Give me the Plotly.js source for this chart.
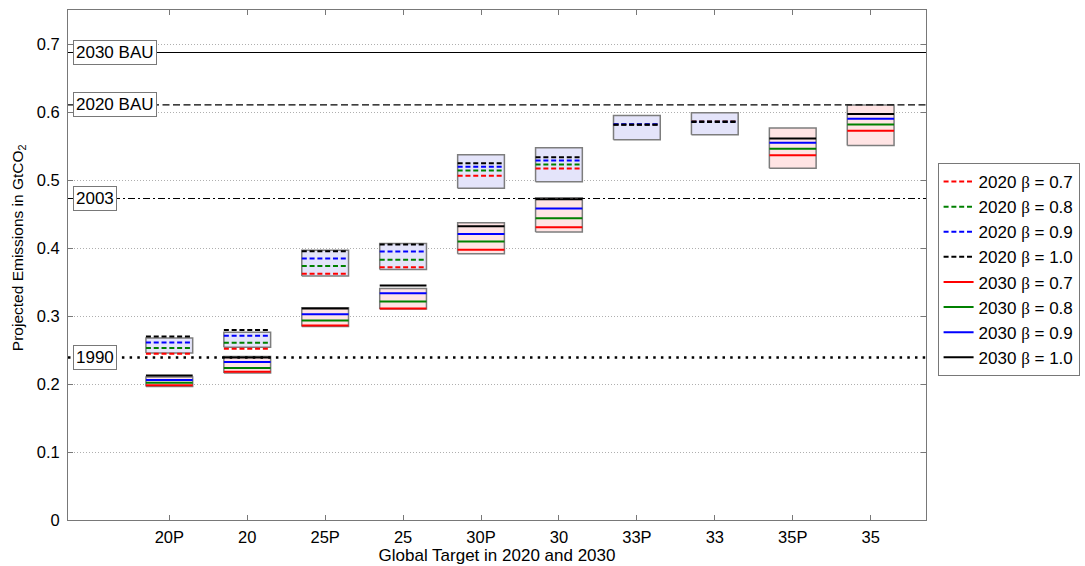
<!DOCTYPE html>
<html>
<head>
<meta charset="utf-8">
<script src="https://cdn.plot.ly/plotly-3.0.1.min.js"></script>
<style>html,body{margin:0;padding:0;background:#fff;}#chart{width:1085px;height:566px;}</style>
</head>
<body>
<div id="chart"></div>
<script>
// ---------------- data ----------------
const categories = ['20P','20','25P','25','30P','30','33P','33','35P','35'];

// 2020 projections (dashed lines)
const e2020_b07 = [0.2445, 0.2518, 0.3623, 0.3716, 0.5062, 0.5169, 0.5815, 0.5865, null, null];
const e2020_b08 = [0.2530, 0.2607, 0.3736, 0.3829, 0.5140, 0.5228, 0.5815, 0.5862, null, null];
const e2020_b09 = [0.2610, 0.2710, 0.3844, 0.3947, 0.5194, 0.5287, 0.5819, 0.5858, null, null];
const e2020_b10 = [0.2700, 0.2794, 0.3952, 0.4050, 0.5247, 0.5336, 0.5812, 0.5852, null, null];

// 2030 projections (solid lines)
const e2030_b07 = [0.1980, 0.2180, 0.2862, 0.3112, 0.3976, 0.4305, null, null, 0.5365, 0.5725];
const e2030_b08 = [0.2020, 0.2234, 0.2935, 0.3215, 0.4094, 0.4437, null, null, 0.5460, 0.5817];
const e2030_b09 = [0.2060, 0.2322, 0.3024, 0.3333, 0.4207, 0.4580, null, null, 0.5548, 0.5901];
const e2030_b10 = [0.2125, 0.2390, 0.3112, 0.3450, 0.4320, 0.4717, null, null, 0.5611, 0.5969];

// range boxes
const box2020Lo = [0.2455, 0.2540, 0.3589, 0.3682, 0.4880, 0.4973, 0.5592, 0.5666, null, null];
const box2020Hi = [0.2676, 0.2762, 0.3966, 0.4065, 0.5370, 0.5474, 0.5950, 0.5990, null, null];
const box2030Lo = [0.1963, 0.2161, 0.2847, 0.3103, 0.3917, 0.4237, null, null, 0.5174, 0.5508];
const box2030Hi = [0.2102, 0.2405, 0.3122, 0.3406, 0.4370, 0.4738, null, null, 0.5763, 0.6102];

// reference levels
const refLabels = ['2030 BAU', '2020 BAU', '2003', '1990'];
const refValues = [0.6875, 0.6105, 0.4728, 0.2390];

// series names
const betaLabels = ['0.7', '0.8', '0.9', '1.0'];
const yearLabels = ['2020', '2030'];

// ---------------- styles ----------------
const seriesColors = ['#ff0000', '#008000', '#0000ff', '#000000'];
const refDash = ['solid', '7px,3.5px', '7px,3px,2px,3px', '2.5px,5.2px'];
const refWidth = [1.2, 1.1, 1.1, 2.6];
const HW = 0.3;
const FONT = '"Liberation Sans", Arial, Helvetica, sans-serif';

function seriesName(year, beta) {
  return year + ' <span style="font-family:\'Liberation Serif\',\'DejaVu Serif\',serif">β</span> = ' + beta;
}
function segs(vals) {
  const x = [], y = [];
  vals.forEach((v, i) => {
    if (v === null) return;
    x.push(i + 1 - HW, i + 1 + HW, null);
    y.push(v, v, null);
  });
  return {x, y};
}
function boxes(lo, hi) {
  const x = [], y = [];
  lo.forEach((l, i) => {
    if (l === null) return;
    const h = hi[i], c = i + 1;
    x.push(c - HW, c + HW, c + HW, c - HW, c - HW, null);
    y.push(l, l, h, h, l, null);
  });
  return {x, y};
}

const traces = [];
[[box2020Lo, box2020Hi, 'rgb(228,228,250)'], [box2030Lo, box2030Hi, 'rgb(255,228,228)']].forEach(b => {
  const p = boxes(b[0], b[1]);
  traces.push({x: p.x, y: p.y, type: 'scatter', mode: 'lines', fill: 'toself',
    fillcolor: b[2], line: {color: 'rgb(125,125,125)', width: 1.5},
    showlegend: false, hoverinfo: 'skip'});
});
[e2020_b07, e2020_b08, e2020_b09, e2020_b10].forEach((s, k) => {
  const p = segs(s);
  traces.push({x: p.x, y: p.y, type: 'scatter', mode: 'lines', name: seriesName(yearLabels[0], betaLabels[k]),
    line: {color: seriesColors[k], width: 2, dash: '5px,2.8px'}});
});
[e2030_b07, e2030_b08, e2030_b09, e2030_b10].forEach((s, k) => {
  const p = segs(s);
  traces.push({x: p.x, y: p.y, type: 'scatter', mode: 'lines', name: seriesName(yearLabels[1], betaLabels[k]),
    line: {color: seriesColors[k], width: 2}});
});

const shapes = refValues.map((v, k) => ({
  type: 'line', xref: 'paper', x0: 0, x1: 1, yref: 'y', y0: v, y1: v, layer: 'above',
  line: {color: '#000', width: refWidth[k], dash: refDash[k]}
}));

const annotations = refValues.map((v, k) => ({
  xref: 'paper', x: 0.0058, xanchor: 'left', yref: 'y', y: v, yanchor: 'middle',
  text: refLabels[k], showarrow: false, bgcolor: '#fff', bordercolor: 'rgb(120,120,120)',
  borderwidth: 1, borderpad: 2, font: {family: FONT, size: 17, color: '#000'}
}));
annotations.push({
  xref: 'paper', x: -0.0583, xanchor: 'center', yref: 'paper', y: 0.535, yanchor: 'middle',
  text: 'Projected Emissions in GtCO<sub>2</sub>', textangle: -90, showarrow: false,
  font: {family: FONT, size: 15.5, color: '#000'}
});

const axisCommon = {
  showline: true, linecolor: 'rgb(120,120,120)', linewidth: 1, mirror: 'ticks',
  ticks: 'inside', ticklen: 5, tickcolor: 'rgb(120,120,120)', zeroline: false,
  tickfont: {family: FONT, size: 16.5, color: '#000'}
};

const layout = {
  width: 1085, height: 566,
  margin: {l: 68, r: 159, t: 10, b: 46, autoexpand: false},
  paper_bgcolor: '#fff', plot_bgcolor: '#fff',
  font: {family: FONT, color: '#000'},
  xaxis: Object.assign({}, axisCommon, {
    range: [-0.3, 10.71], tickmode: 'array',
    tickvals: categories.map((c, i) => i + 1), ticktext: categories,
    showgrid: false, ticklabelstandoff: 2,
    title: {text: 'Global Target in 2020 and 2030', font: {family: FONT, size: 17, color: '#000'}, standoff: 1}
  }),
  yaxis: Object.assign({}, axisCommon, {
    range: [0, 0.75], tick0: 0, dtick: 0.1,
    showgrid: true, gridcolor: 'rgb(175,175,175)', griddash: '1px,2px', gridwidth: 1,
    ticklabelstandoff: 4
  }),
  legend: {
    x: 1.0135, xanchor: 'left', y: 0.70, yanchor: 'top',
    bgcolor: '#fff', bordercolor: 'rgb(120,120,120)', borderwidth: 1,
    font: {family: FONT, size: 17, color: '#000'}, tracegroupgap: 0
  },
  shapes: shapes,
  annotations: annotations,
  showlegend: true
};

Plotly.newPlot('chart', traces, layout, {displayModeBar: false, staticPlot: true});
</script>
</body>
</html>
